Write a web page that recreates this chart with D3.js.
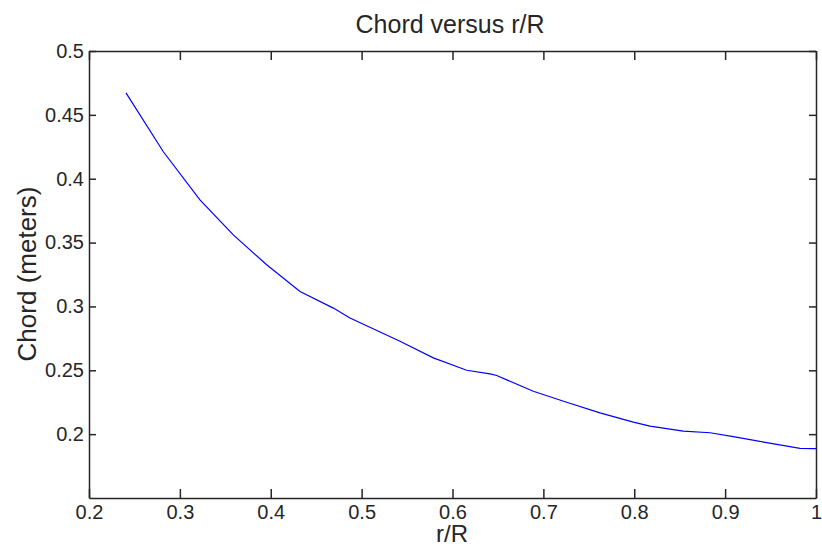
<!DOCTYPE html>
<html>
<head>
  <meta charset="utf-8">
  <title>Chord versus r/R</title>
  <style type="text/css">
    body{
      margin:0;
      background:#fff;
    }
    text{
      font-family: "Liberation Sans", Arial, sans-serif;
      fill:#262626;
    }
  </style>
</head>
<body>
<div id="chart"></div>
<script src="https://cdnjs.cloudflare.com/ajax/libs/d3/7.8.5/d3.min.js"></script>
<script type="text/javascript">
  // values
  var rR    = [0.2407, 0.2818, 0.3221, 0.3588, 0.3955, 0.4322, 0.4689, 0.4872, 0.5422, 0.5789,
               0.6156, 0.6413, 0.6486, 0.6889, 0.7256, 0.7623, 0.7990, 0.8173, 0.8540, 0.8834,
               0.9090, 0.9457, 0.9824, 1.0];
  var chord = [0.4672, 0.4211, 0.3834, 0.3560, 0.3326, 0.3117, 0.2987, 0.2909, 0.2727, 0.2597,
               0.2500, 0.2472, 0.2459, 0.2336, 0.2250, 0.2167, 0.2094, 0.2063, 0.2024, 0.2011,
               0.1980, 0.1933, 0.1888, 0.1886];
  var xTicks = [0.2, 0.3, 0.4, 0.5, 0.6, 0.7, 0.8, 0.9, 1];
  var yTicks = [0.2, 0.25, 0.3, 0.35, 0.4, 0.45, 0.5];

  var W = 822, H = 550;
  var pLeft = 89, pRight = 816, pTop = 51, pBottom = 498;

  var svg = d3.select("#chart").append("svg")
      .attr("width", W)
      .attr("height", H);

  var x = d3.scaleLinear().domain([0.2, 1]).range([pLeft, pRight]);
  var y = d3.scaleLinear().domain([0.15, 0.5]).range([pBottom, pTop]);

  var fmt = function (d) { return String(+d.toFixed(2)); };

  // bottom / top axes, ticks pointing inward
  svg.append("g")
    .attr("transform", "translate(0," + pBottom + ")")
    .call(d3.axisBottom(x).tickValues(xTicks).tickSizeInner(-9).tickSizeOuter(0).tickPadding(7).tickFormat(fmt))
    .call(function (g) { g.selectAll("text").style("font-size", "20px"); });
  svg.append("g")
    .attr("transform", "translate(0," + pTop + ")")
    .call(d3.axisTop(x).tickValues(xTicks).tickSizeInner(-9).tickSizeOuter(0).tickFormat(""));

  // left / right axes
  svg.append("g")
    .attr("transform", "translate(" + pLeft + ",0)")
    .call(d3.axisLeft(y).tickValues(yTicks).tickSizeInner(-7).tickSizeOuter(0).tickPadding(5).tickFormat(fmt))
    .call(function (g) { g.selectAll("text").style("font-size", "20px"); });
  svg.append("g")
    .attr("transform", "translate(" + pRight + ",0)")
    .call(d3.axisRight(y).tickValues(yTicks).tickSizeInner(-7).tickSizeOuter(0).tickFormat(""));

  svg.selectAll(".domain, .tick line")
    .attr("stroke", "#262626")
    .attr("stroke-width", 1.5);

  var line = d3.line()
    .x(function (d, i) { return x(rR[i]); })
    .y(function (d) { return y(d); });

  svg.append("path")
    .datum(chord)
    .attr("fill", "none")
    .attr("stroke", "#0000ff")
    .attr("stroke-width", 1.2)
    .attr("d", line);

  svg.append("text")
    .attr("x", 450)
    .attr("y", 33)
    .style("text-anchor", "middle")
    .style("font-size", "25px")
    .text("Chord versus r/R");

  svg.append("text")
    .attr("x", 452)
    .attr("y", 542)
    .style("text-anchor", "middle")
    .style("font-size", "24px")
    .text("r/R");

  svg.append("text")
    .attr("transform", "translate(36,274) rotate(-90)")
    .style("text-anchor", "middle")
    .style("font-size", "26px")
    .text("Chord (meters)");
</script>
</body>
</html>
